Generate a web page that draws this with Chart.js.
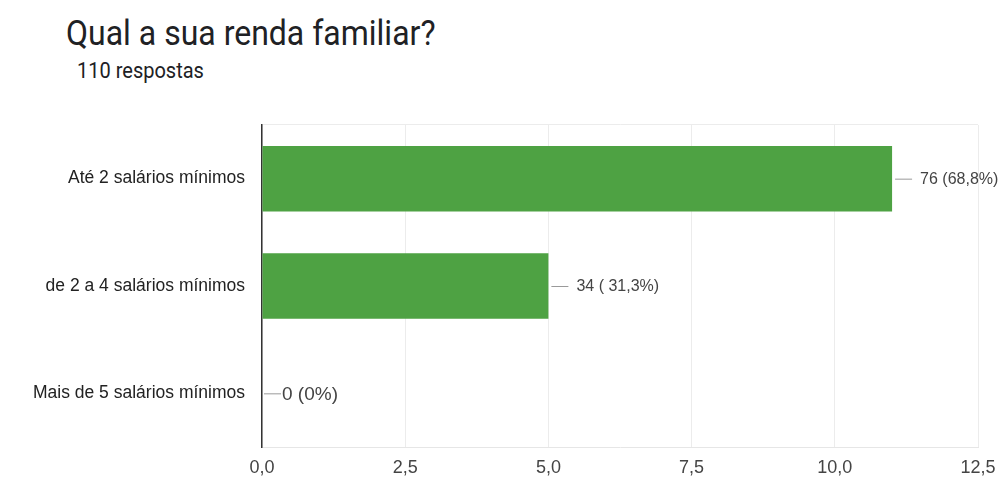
<!doctype html>
<html>
<head>
<meta charset="utf-8">
<script src="https://cdn.jsdelivr.net/npm/chart.js@4.4.1/dist/chart.umd.min.js"></script>
<style>
  body { margin: 0; background: #fff; }
  #wrap { position: relative; width: 1000px; height: 478px; }
  #title { position: absolute; left: 66px; top: 16px; font: 32px Roboto, sans-serif; color: #202124;
           transform: scaleY(1.08); transform-origin: left bottom; }
  #sub { position: absolute; left: 77px; top: 60px; font: 20px Roboto, sans-serif; color: #202124;
         transform: scaleY(1.1); transform-origin: left bottom; }
  canvas { position: absolute; left: 0; top: 0; }
</style>
</head>
<body>
<div id="wrap">
  <div id="title">Qual a sua renda familiar?</div>
  <div id="sub">110 respostas</div>
  <canvas id="myChart" width="1000" height="478"></canvas>
</div>
<script>
// data
var categories = ['Até 2 salários mínimos', 'de 2 a 4 salários mínimos', 'Mais de 5 salários mínimos'];
var values = [11, 5, 0];
var valueLabels = ['76 (68,8%)', '34 ( 31,3%)', '0 (0%)'];
var xTicks = [0, 2.5, 5, 7.5, 10, 12.5];

// leader line + text after each bar
var barLabels = {
  id: 'barLabels',
  afterDatasetsDraw: function (chart) {
    var ctx = chart.ctx;
    var meta = chart.getDatasetMeta(0);
    meta.data.forEach(function (bar, i) {
      var zero = values[i] === 0;
      var x0 = bar.x + (zero ? 2 : 3);
      var x1 = x0 + 17;
      ctx.save();
      ctx.strokeStyle = '#9a9a9a';
      ctx.lineWidth = 1;
      ctx.beginPath();
      ctx.moveTo(x0, bar.y + 0.5);
      ctx.lineTo(x1, bar.y + 0.5);
      ctx.stroke();
      ctx.fillStyle = '#444';
      ctx.font = (zero ? '19px' : '16px') + ' "Liberation Sans", Arial, sans-serif';
      ctx.textBaseline = 'middle';
      ctx.fillText(valueLabels[i], x1 + (zero ? 1 : 8), bar.y + 1);
      ctx.restore();
    });
  }
};

var ctx = document.getElementById('myChart');
var myChart = new Chart(ctx, {
  type: 'bar',
  data: {
    labels: categories,
    datasets: [{
      data: values,
      backgroundColor: '#4ea243',
      categoryPercentage: 1,
      barPercentage: 0.61
    }]
  },
  options: {
    indexAxis: 'y',
    responsive: false,
    animation: false,
    layout: { padding: { top: 125, right: 22, left: 0, bottom: 0 } },
    plugins: { legend: { display: false }, tooltip: { enabled: false } },
    scales: {
      x: {
        min: 0,
        max: 12.5,
        afterBuildTicks: function (scale) {
          scale.ticks = xTicks.map(function (v) { return { value: v }; });
        },
        afterFit: function (scale) {
          scale.height = 31;
          scale.paddingLeft = 0;
          scale.paddingRight = 0;
        },
        grid: { color: '#ececec', drawTicks: false },
        border: { color: '#e6e6e6' },
        ticks: {
          padding: 10,
          color: '#444',
          font: { family: '"Liberation Sans", Arial, sans-serif', size: 18 },
          callback: function (v) { return Number(v).toFixed(1).replace('.', ','); }
        }
      },
      y: {
        afterFit: function (scale) { scale.width = 262; },
        grid: {
          drawTicks: false,
          color: function (c) { return c.index === 0 ? '#ececec' : 'rgba(0,0,0,0)'; }
        },
        border: { color: '#333', width: 1.5 },
        ticks: {
          padding: 17,
          color: '#222',
          font: { family: '"Liberation Sans", Arial, sans-serif', size: 17.5 }
        }
      }
    }
  },
  plugins: [barLabels]
});
</script>
</body>
</html>
